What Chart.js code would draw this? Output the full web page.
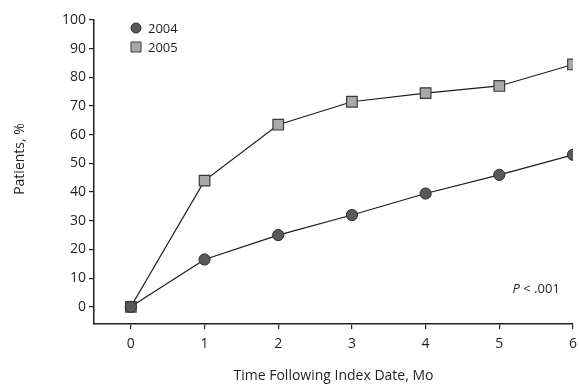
<!DOCTYPE html>
<html>
<head>
<meta charset="utf-8">
<script src="https://cdn.jsdelivr.net/npm/chart.js@4/dist/chart.umd.min.js"></script>
<style>
  html, body { margin: 0; padding: 0; background: #fff; }
  #wrap { width: 579px; height: 384px; }
</style>
</head>
<body>
<div id="wrap"><canvas id="chart"></canvas></div>
<script>
// data
const months = [0, 1, 2, 3, 4, 5, 6];
const pct2004 = [0, 16.5, 25, 32, 39.5, 46, 53];
const pct2005 = [0, 44, 63.5, 71.5, 74.5, 77, 84.5];
const yTicks = [0, 10, 20, 30, 40, 50, 60, 70, 80, 90, 100];
const seriesNames = ["2004", "2005"];
const pLabel = ["P", " < .001"];
const yTitle = "Patients, %";

const FONT = "'Open Sans', 'Noto Sans', sans-serif";
const INK = "#231f20";

// legend, p value and y title drawn by hand
const notes = {
  id: "notes",
  afterDraw(chart) {
    const ctx = chart.ctx;
    const xs = chart.scales.x, ys = chart.scales.y;
    ctx.save();
    ctx.font = "13px " + FONT;
    ctx.fillStyle = INK;
    ctx.textBaseline = "middle";
    // legend
    const lx = 136, ly = [28, 47];
    chart.data.datasets.forEach((ds, i) => {
      ctx.lineWidth = 1;
      ctx.strokeStyle = ds.pointBorderColor;
      ctx.fillStyle = ds.pointBackgroundColor;
      ctx.beginPath();
      if (ds.pointStyle === "circle") {
        ctx.arc(lx, ly[i], 5, 0, Math.PI * 2);
      } else {
        ctx.rect(lx - 5, ly[i] - 5, 10, 10);
      }
      ctx.fill();
      ctx.stroke();
      ctx.fillStyle = INK;
      ctx.textAlign = "left";
      ctx.fillText(ds.label, lx + 12, ly[i] + 1);
    });
    // p value
    const px = xs.getPixelForValue(5.18), py = ys.getPixelForValue(6.2);
    ctx.font = "italic 13px " + FONT;
    ctx.fillText(pLabel[0], px, py);
    const w = ctx.measureText(pLabel[0]).width;
    ctx.font = "13px " + FONT;
    ctx.fillText(pLabel[1], px + w, py);
    // y title
    ctx.translate(20, 159);
    ctx.rotate(-Math.PI / 2);
    ctx.textAlign = "center";
    ctx.font = "14px " + FONT;
    ctx.fillText(yTitle, 0, 0);
    ctx.restore();
  }
};

const ctx = document.getElementById("chart").getContext("2d");
new Chart(ctx, {
  type: "line",
  data: {
    datasets: [
      {
        label: seriesNames[0],
        data: months.map((m, i) => ({ x: m, y: pct2004[i] })),
        borderColor: "#1a1a1a",
        borderWidth: 1.2,
        pointStyle: "circle",
        pointRadius: 5.6,
        pointBackgroundColor: "#58595b",
        pointBorderColor: "#2b2b2b",
        pointBorderWidth: 1,
        fill: false,
        tension: 0
      },
      {
        label: seriesNames[1],
        data: months.map((m, i) => ({ x: m, y: pct2005[i] })),
        borderColor: "#1a1a1a",
        borderWidth: 1.2,
        pointStyle: "rect",
        pointRadius: 7.5,
        pointBackgroundColor: "#a7a9ac",
        pointBorderColor: "#3a3a3a",
        pointBorderWidth: 1.2,
        fill: false,
        tension: 0
      }
    ]
  },
  options: {
    responsive: true,
    maintainAspectRatio: false,
    animation: false,
    layout: { autoPadding: false, padding: { top: 20, right: 6, left: 0, bottom: 0 } },
    plugins: {
      legend: { display: false },
      tooltip: { enabled: false }
    },
    scales: {
      x: {
        type: "linear",
        min: -0.5,
        max: 6,
        afterBuildTicks: s => { s.ticks = months.map(v => ({ value: v })); },
        afterFit: s => { s.height = 60; s.paddingRight = 0; },
        grid: { drawOnChartArea: false, drawTicks: true, tickLength: 5, color: INK, lineWidth: 1.2 },
        border: { display: true, color: INK, width: 1.5 },
        ticks: { color: INK, font: { family: FONT, size: 14 }, padding: 7, maxRotation: 0 },
        title: {
          display: true,
          text: "Time Following Index Date, Mo",
          color: INK,
          font: { family: FONT, size: 14, lineHeight: 1 },
          padding: { top: 20, bottom: 1 }
        }
      },
      y: {
        min: -6,
        max: 100,
        afterBuildTicks: s => { s.ticks = yTicks.map(v => ({ value: v })); },
        afterFit: s => { s.width = 94; },
        grid: { drawOnChartArea: false, drawTicks: true, tickLength: 5, color: INK, lineWidth: 1.2 },
        border: { display: true, color: INK, width: 1.5 },
        ticks: { color: INK, font: { family: FONT, size: 14 }, padding: 3 }
      }
    }
  },
  plugins: [notes]
});
</script>
</body>
</html>
